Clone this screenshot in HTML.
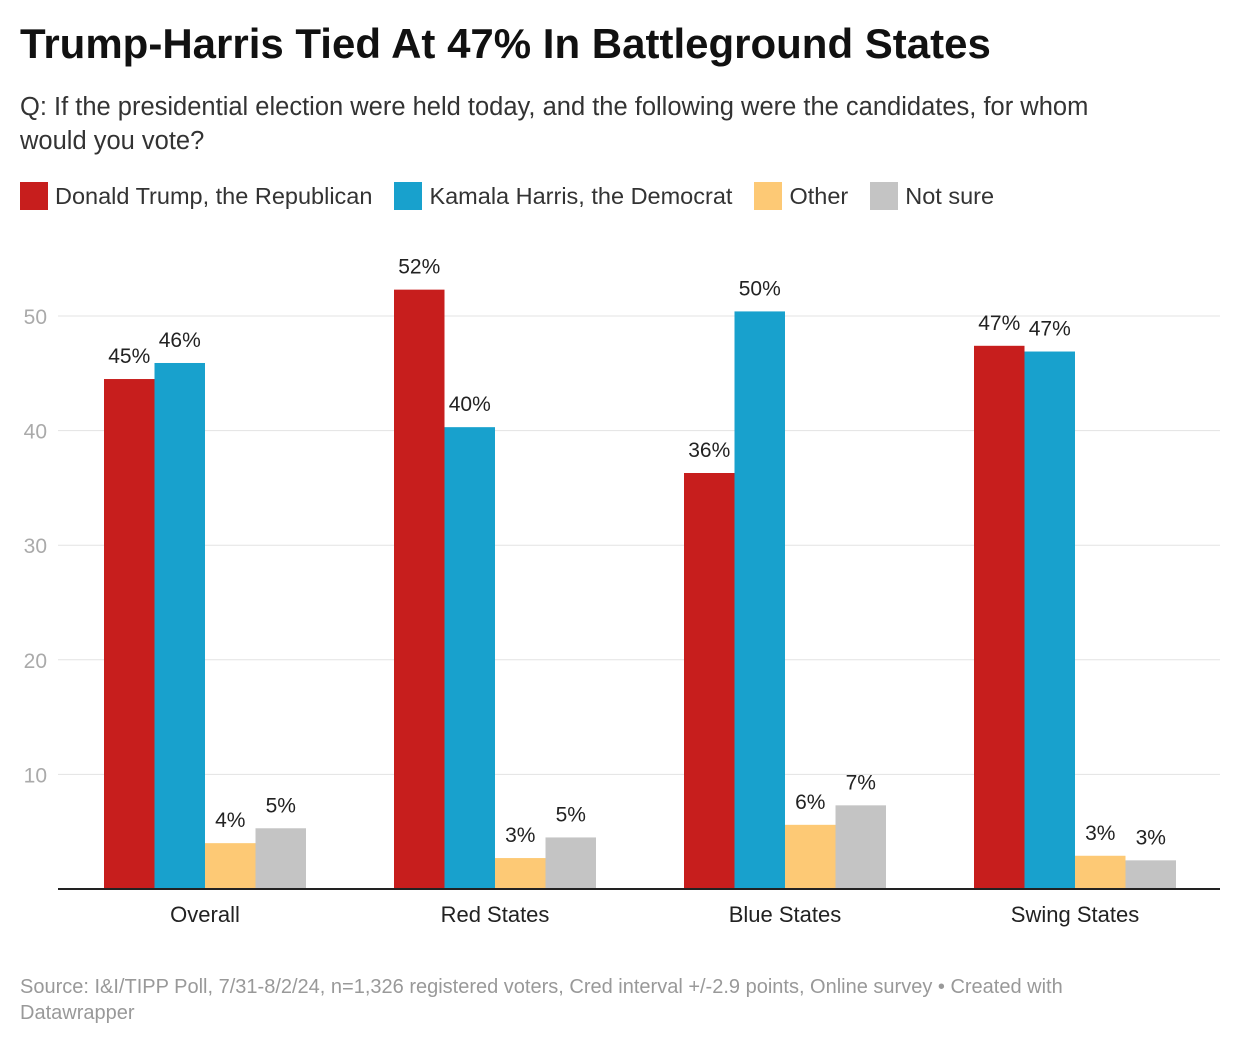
<!DOCTYPE html>
<html><head><meta charset="utf-8"><style>
body{margin:0;background:#fff;font-family:"Liberation Sans",Roboto,sans-serif;color:#222;}
#wrap{position:relative;width:1240px;height:1048px;overflow:hidden;}
.t{position:absolute;white-space:nowrap;}
</style></head><body><div id="wrap">
<div class="t" style="left:20px;top:20px;font-size:42px;font-weight:bold;color:#111;">Trump-Harris Tied At 47% In Battleground States</div>
<div class="t" style="left:20px;top:90px;font-size:25.5px;line-height:34px;white-space:normal;width:1100px;color:#333;">Q: If the presidential election were held today, and the following were the candidates, for whom would you vote?</div>
<div id="legend" style="position:absolute;left:20px;top:181px;height:30px;display:flex;font-size:23.5px;color:#333;"></div>
<svg id="chart" width="1240" height="1048" style="position:absolute;left:0;top:0"></svg>
<div class="t" style="left:20px;top:974px;font-size:20px;line-height:26px;color:#999;white-space:normal;width:1150px;">Source: I&amp;I/TIPP Poll, 7/31-8/2/24, n=1,326 registered voters, Cred interval +/-2.9 points, Online survey • Created with Datawrapper</div>
</div>
<script>
const categories=["Overall","Red States","Blue States","Swing States"];
const seriesNames=["Donald Trump, the Republican","Kamala Harris, the Democrat","Other","Not sure"];
const colors=["#c71e1d","#18a1cd","#fdc975","#c4c4c4"];
const trump=[44.5,52.3,36.3,47.4];
const harris=[45.9,40.3,50.4,46.9];
const other=[4.0,2.7,5.6,2.9];
const notSure=[5.3,4.5,7.3,2.5];
const labelsTrump=["45%","52%","36%","47%"];
const labelsHarris=["46%","40%","50%","47%"];
const labelsOther=["4%","3%","6%","3%"];
const labelsNotSure=["5%","5%","7%","3%"];
const yTicks=[10,20,30,40,50];
const series=[trump,harris,other,notSure];
const labels=[labelsTrump,labelsHarris,labelsOther,labelsNotSure];
const NS="http://www.w3.org/2000/svg";
const svg=document.getElementById('chart');
const y0=889,pxPer=11.46,left=58,right=1220;
const y=v=>y0-v*pxPer;
const gx=i=>205+i*290;
const bw=50.5;
function mk(t,a){const e=document.createElementNS(NS,t);for(const k in a)e.setAttribute(k,a[k]);svg.appendChild(e);return e;}
yTicks.forEach(v=>{
 const l=mk('line',{x1:left,x2:right,y1:y(v),y2:y(v),stroke:'#e3e3e3','stroke-width':1});
 
 
 const t=mk('text',{x:47,y:y(v)+8,'text-anchor':'end','font-size':21,fill:'#aaa','font-family':'Liberation Sans,sans-serif'});
 t.textContent=v;
 
 
});
categories.forEach((c,i)=>{
 series.forEach((s,j)=>{
  const x=gx(i)-2*bw+j*bw;
  const r=mk('rect',{x:x,y:y(s[i]),width:bw,height:s[i]*pxPer,fill:colors[j]});
  
  
  const t=mk('text',{x:x+bw/2,y:y(s[i])-16,'text-anchor':'middle','font-size':21,fill:'#222','font-family':'Liberation Sans,sans-serif'});
  t.textContent=labels[j][i];
  
  
 });
 const t=mk('text',{x:gx(i),y:922,'text-anchor':'middle','font-size':22,fill:'#222','font-family':'Liberation Sans,sans-serif'});
 t.textContent=c;
 
 
});
const ax=mk('line',{x1:left,x2:right,y1:y0,y2:y0,stroke:'#222','stroke-width':2});


const lg=document.getElementById('legend');
seriesNames.forEach((n,j)=>{
 const d=document.createElement('div');
 d.style.cssText='display:flex;align-items:center;margin-right:22px;';
 
 
 d.innerHTML='<span style="display:inline-block;width:28px;height:28px;background:'+colors[j]+';margin-right:7px"></span>'+n;
 lg.appendChild(d);
});
</script></body></html>
